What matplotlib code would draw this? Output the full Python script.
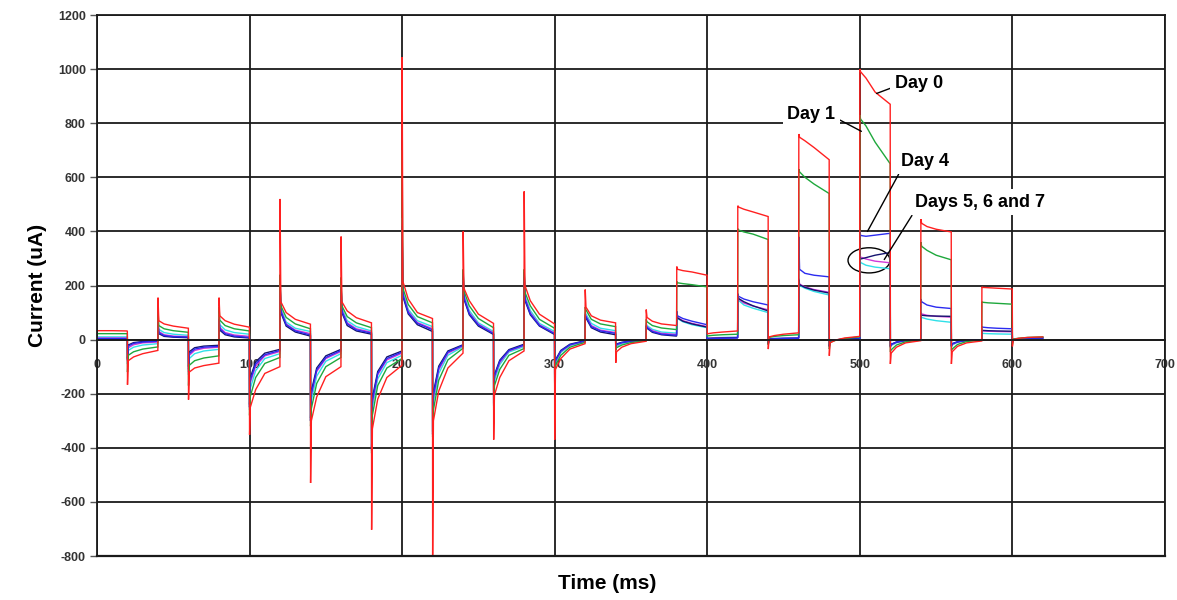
#!/usr/bin/env python
# -*- coding: utf-8 -*-
"""
Current response of the pulse sequence, Day 0 .. Day 7
"""

import numpy as np
import matplotlib
matplotlib.use("Agg")
import matplotlib.pyplot as plt
from matplotlib.patches import Ellipse

plt.rcParams['font.family'] = ['Liberation Sans', 'DejaVu Sans']
plt.rcParams['axes.unicode_minus'] = False

# each pulse step lasts 20 ms; values read at these offsets inside a step:
# spike, just after spike, 4 ms, 10 ms, end of step
step_ms = 20
sample_offsets_ms = [0, 0.5, 4, 10, 19.9]

# Day 0 (uA), one row per 20 ms step
day0 = [
    (33, 33, 33, 33, 32), (-167, -78, -64, -52, -40), (155, 70, 58, 50, 42),
    (-222, -120, -105, -96, -87), (155, 88, 70, 57, 46), (-352, -250, -185, -125, -100),
    (520, 140, 100, 75, 57), (-530, -300, -212, -137, -100), (381, 140, 106, 81, 62),
    (-703, -330, -220, -140, -95), (1044, 215, 150, 100, 78), (-796, -300, -190, -105, -50),
    (400, 190, 144, 94, 60), (-370, -205, -140, -78, -42), (548, 200, 144, 94, 58),
    (-370, -110, -70, -35, -15), (185, 120, 88, 72, 62), (-86, -45, -28, -15, -6),
    (111, 82, 68, 58, 52), (270, 260, 255, 250, 238), (20, 22, 25, 28, 32),
    (495, 490, 482, 472, 455), (-35, 10, 15, 20, 25), (760, 748, 735, 710, 665),
    (-60, -12, -2, 6, 12), (1000, 990, 967, 915, 870), (-90, -50, -28, -12, -4),
    (445, 430, 418, 408, 398), (-90, -45, -25, -12, -5), (195, 193, 192, 190, 187),
    (-25, 0, 5, 8, 10),
]

day1 = [
    (22, 22, 22, 22, 22), (-120, -58, -45, -35, -27), (110, 52, 40, 33, 27),
    (-170, -95, -78, -68, -60), (120, 72, 52, 40, 32), (-280, -210, -140, -88, -66),
    (240, 125, 82, 58, 40), (-320, -255, -162, -100, -66), (230, 125, 85, 62, 44),
    (-420, -280, -170, -105, -70), (700, 190, 130, 85, 62), (-360, -260, -150, -75, -32),
    (260, 180, 125, 78, 44), (-260, -170, -110, -58, -33), (260, 175, 125, 75, 42),
    (-180, -95, -58, -28, -10), (120, 110, 75, 58, 48), (-40, -30, -20, -11, -4),
    (75, 66, 52, 43, 37), (215, 210, 207, 203, 195), (12, 14, 16, 18, 20),
    (410, 405, 398, 390, 370), (-20, 8, 12, 15, 18), (630, 620, 600, 575, 540),
    (-35, -10, -3, 4, 10), (830, 815, 790, 730, 650), (-45, -38, -20, -8, -2),
    (360, 345, 330, 312, 295), (-40, -35, -18, -7, -2), (140, 138, 136, 134, 131),
    (-18, 2, 5, 8, 10),
]

day4 = [
    (4, 4, 4, 4, 4), (-75, -24, -14, -9, -6), (65, 26, 15, 11, 9),
    (-110, -52, -35, -28, -25), (75, 40, 22, 13, 8), (-250, -150, -90, -56, -40),
    (218, 105, 55, 32, 17), (-300, -200, -112, -66, -40), (206, 105, 58, 36, 24),
    (-410, -225, -125, -70, -46), (420, 165, 100, 60, 36), (-350, -205, -105, -46, -21),
    (250, 155, 96, 54, 22), (-240, -135, -80, -40, -20), (250, 150, 96, 52, 22),
    (-170, -78, -42, -19, -5), (90, 85, 48, 32, 23), (-30, -18, -11, -5, -2),
    (52, 45, 30, 20, 16), (105, 88, 78, 68, 55), (2, 3, 4, 5, 6),
    (170, 160, 150, 140, 128), (-15, 1, 3, 4, 5), (380, 260, 245, 238, 232),
    (-25, -5, -1, 1, 3), (400, 385, 382, 386, 393), (-25, -18, -9, -3, 0),
    (150, 140, 128, 120, 115), (-25, -16, -8, -3, 0), (48, 46, 44, 42, 40),
    (-10, 0, 3, 5, 6),
]

day5 = [
    (6, 6, 6, 6, 6), (-80, -30, -19, -12, -9), (70, 30, 18, 13, 11),
    (-120, -58, -40, -32, -28), (80, 45, 26, 17, 12), (-250, -160, -98, -60, -44),
    (215, 110, 58, 35, 22), (-300, -205, -118, -70, -44), (205, 110, 62, 40, 27),
    (-400, -235, -130, -75, -50), (430, 170, 105, 63, 40), (-350, -215, -112, -50, -23),
    (250, 160, 100, 57, 25), (-245, -140, -85, -42, -22), (250, 155, 100, 55, 24),
    (-170, -80, -44, -20, -6), (95, 88, 52, 35, 26), (-32, -20, -12, -6, -2),
    (55, 47, 33, 23, 19), (95, 82, 70, 60, 48), (4, 5, 6, 7, 8),
    (155, 150, 135, 124, 110), (-15, 2, 4, 5, 6), (225, 205, 195, 185, 175),
    (-25, -5, -1, 2, 4), (310, 305, 298, 290, 284), (-28, -20, -10, -4, -1),
    (100, 95, 90, 86, 83), (-25, -18, -9, -3, 0), (33, 32, 31, 30, 29),
    (-10, 0, 3, 5, 6),
]

day6 = [
    (10, 10, 10, 10, 10), (-90, -40, -28, -20, -15), (80, 38, 26, 20, 16),
    (-130, -70, -52, -42, -36), (90, 55, 36, 26, 20), (-260, -180, -115, -70, -52),
    (220, 115, 65, 42, 30), (-300, -225, -135, -80, -52), (210, 115, 70, 48, 32),
    (-400, -250, -145, -85, -58), (450, 175, 112, 70, 48), (-350, -230, -125, -58, -26),
    (250, 165, 108, 62, 30), (-245, -150, -92, -46, -26), (250, 160, 108, 60, 30),
    (-175, -85, -48, -22, -7), (100, 95, 60, 42, 33), (-35, -24, -15, -8, -3),
    (60, 52, 38, 28, 24), (90, 78, 66, 55, 44), (5, 6, 7, 8, 9),
    (150, 145, 128, 116, 100), (-15, 3, 5, 6, 7), (220, 200, 190, 178, 165),
    (-25, -6, -2, 2, 5), (300, 285, 275, 268, 262), (-30, -22, -12, -4, -1),
    (90, 82, 76, 70, 64), (-28, -20, -10, -4, -1), (24, 23, 22, 21, 20),
    (-10, 0, 3, 5, 6),
]

day7 = [
    (2, 2, 2, 2, 2), (-70, -20, -11, -7, -4), (60, 22, 12, 9, 7),
    (-100, -45, -30, -24, -21), (70, 35, 18, 10, 6), (-240, -140, -82, -50, -36),
    (210, 100, 50, 28, 13), (-290, -190, -105, -60, -36), (200, 100, 52, 32, 20),
    (-400, -215, -118, -64, -42), (400, 160, 95, 55, 30), (-340, -195, -98, -42, -19),
    (240, 150, 92, 50, 19), (-235, -130, -76, -37, -17), (245, 145, 92, 50, 19),
    (-165, -75, -40, -17, -4), (85, 80, 44, 28, 18), (-28, -16, -10, -5, -1),
    (50, 42, 27, 18, 13), (100, 80, 68, 58, 46), (3, 4, 5, 6, 7),
    (160, 152, 140, 125, 106), (-15, 2, 3, 4, 5), (220, 203, 193, 183, 172),
    (-25, -5, -1, 2, 4), (305, 298, 303, 312, 322), (-25, -17, -9, -3, 0),
    (95, 90, 88, 87, 86), (-22, -15, -8, -3, 0), (35, 34, 33, 32, 31),
    (-10, 0, 3, 5, 6),
]

# drawing order: back to front
series = [
    ('Day 6', day6, '#2fe0e8'),
    ('Day 5', day5, '#d03ad8'),
    ('Day 7', day7, '#14146e'),
    ('Day 4', day4, '#2b2bf0'),
    ('Day 1', day1, '#1ea83c'),
    ('Day 0', day0, '#ff2020'),
]

# annotation labels: text, text anchor (ms, uA), target (ms, uA), alignment
labels = [
    ('Day 0', (523, 948), (511, 910), 'left', (0, 0.3)),
    ('Day 1', (484, 833), (501, 770), 'right', (1, 0.3)),
    ('Day 4', (527, 659), (505, 400), 'left', (0, 0)),
    ('Days 5, 6 and 7', (536, 507), (516, 296), 'left', (0, 0)),
]


def build_trace(rows):
    """turn the per-step readings into a time / current polyline"""
    rows = np.asarray(rows, dtype=float)
    starts = np.arange(len(rows)) * step_ms
    t = np.add.outer(starts, sample_offsets_ms)
    return t.ravel(), rows.ravel()


fig = plt.figure(figsize=(11.77, 6.0), dpi=100)
ax = fig.add_axes([0.0824, 0.0733, 0.9074, 0.9017])

for name, rows, color in series:
    t, y = build_trace(rows)
    ax.plot(t, y, color=color, lw=1.0, solid_joinstyle='miter')

ax.set_xlim(0, 700)
ax.set_ylim(-800, 1200)
ax.set_xticks(np.arange(0, 701, 100))
ax.set_yticks(np.arange(-800, 1201, 200))
ax.grid(True, color='#1a1a1a', lw=1.3)
ax.set_axisbelow(True)

# x axis sits on the zero line, keep the frame with a line at -800
ax.spines['bottom'].set_position(('data', 0))
for side in ['left', 'right', 'top', 'bottom']:
    ax.spines[side].set_color('#1a1a1a')
    ax.spines[side].set_linewidth(1.3)
ax.axhline(-800, color='#1a1a1a', lw=1.6, clip_on=False)

ax.tick_params(axis='x', length=0, pad=14, labelsize=9, labelcolor='#333333')
ax.tick_params(axis='y', length=5, width=1, pad=3, labelsize=9,
               labelcolor='#333333', color='#555555')
for lab in ax.get_xticklabels() + ax.get_yticklabels():
    lab.set_fontweight('bold')

ax.set_ylabel('Current (uA)', fontsize=15, fontweight='bold', labelpad=8)
fig.text(0.516, 0.028, 'Time (ms)', fontsize=15, fontweight='bold',
         ha='center', va='center')

# labels with white boxes that break the grid
for text, xy_text, xy_target, ha, rel in labels:
    ax.annotate(text, xy=xy_target, xytext=xy_text, ha=ha, va='center',
                fontsize=13, fontweight='bold',
                bbox=dict(boxstyle='square,pad=0.25', fc='white', ec='none'),
                arrowprops=dict(arrowstyle='-', color='black', lw=1.0,
                                shrinkA=0, shrinkB=0, relpos=rel))

ax.add_patch(Ellipse((506, 293), 27.5, 93, fill=False, ec='black', lw=1.0))

fig.savefig('out.png', dpi=100)
